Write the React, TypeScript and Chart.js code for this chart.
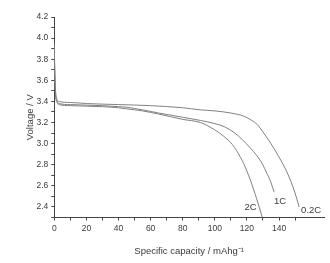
import React, { useEffect, useRef } from "react";
import { Chart, registerables } from "chart.js";

Chart.register(...registerables);

// 0.2C discharge curve
const cap02C = [0, 0.3, 0.8, 1.5, 3, 10, 20, 40, 60, 80, 91, 100, 110, 118, 123, 126.5, 130, 133, 137, 141, 144, 147.3, 150, 152.5];
const volt02C = [3.95, 3.7, 3.5, 3.43, 3.40, 3.39, 3.38, 3.37, 3.36, 3.34, 3.32, 3.31, 3.29, 3.26, 3.22, 3.18, 3.11, 3.045, 2.95, 2.845, 2.76, 2.645, 2.53, 2.40];

// 1C discharge curve
const cap1C = [0, 0.3, 0.8, 1.5, 3, 10, 20, 30, 40, 45, 55, 65, 80, 91, 100, 106, 112, 117, 122, 126, 129.5, 132.7, 135, 136.9];
const volt1C = [3.92, 3.65, 3.47, 3.41, 3.38, 3.37, 3.365, 3.36, 3.35, 3.345, 3.32, 3.29, 3.25, 3.22, 3.19, 3.16, 3.105, 3.04, 2.96, 2.89, 2.81, 2.71, 2.63, 2.54];

// 2C discharge curve
const cap2C = [0, 0.3, 0.8, 1.5, 3, 10, 20, 30, 40, 45, 55, 65, 80, 91, 100, 105.5, 111, 116, 118, 122, 126, 129.6];
const volt2C = [3.9, 3.62, 3.45, 3.40, 3.37, 3.36, 3.355, 3.35, 3.34, 3.33, 3.31, 3.28, 3.23, 3.20, 3.13, 3.07, 2.99, 2.87, 2.81, 2.66, 2.48, 2.30];

// Curve labels and their anchor positions in data units
const curveLabels = ["2C", "1C", "0.2C"];
const labelCap = [122.3, 140.6, 160];
const labelVolt = [2.395, 2.457, 2.363];

const xTitle = "Specific capacity / mAhg\u207B\u00B9";
const yTitle = "Voltage / V";

const FONT = "'Liberation Sans', Arial, sans-serif";
const LINE = "#808080";
const AXIS = "#444";
const TEXT = "#3a3a3a";

const toPts = (xs: number[], ys: number[]) => xs.map((x, i) => ({ x, y: ys[i] }));

export default function App() {
  const ref = useRef<HTMLCanvasElement | null>(null);
  useEffect(() => {
    if (!ref.current) return;
    const labelPlugin = {
      id: "curveLabels",
      afterDatasetsDraw(chart: any) {
        const { ctx, scales } = chart;
        ctx.save();
        ctx.fillStyle = TEXT;
        ctx.font = `9.5px ${FONT}`;
        ctx.textAlign = "center";
        ctx.textBaseline = "middle";
        curveLabels.forEach((t, i) => {
          ctx.fillText(t, scales.x.getPixelForValue(labelCap[i]), scales.y.getPixelForValue(labelVolt[i]));
        });
        ctx.restore();
      },
    };
    const ds = (data: any) => ({
      data,
      borderColor: LINE,
      borderWidth: 1,
      pointRadius: 0,
      fill: false,
      cubicInterpolationMode: "monotone" as const,
    });
    const chart = new Chart(ref.current, {
      type: "line",
      data: {
        datasets: [ds(toPts(cap02C, volt02C)), ds(toPts(cap1C, volt1C)), ds(toPts(cap2C, volt2C))],
      },
      options: {
        animation: false,
        responsive: false,
        maintainAspectRatio: false,
        layout: { padding: { top: 17, right: 6, left: 0, bottom: 0 } },
        plugins: { legend: { display: false }, tooltip: { enabled: false } },
        scales: {
          x: {
            type: "linear",
            min: 0,
            max: 168,
            afterFit: (s: any) => {
              s.height = 45.5;
            },
            border: { display: true, color: AXIS, width: 1 },
            grid: {
              drawOnChartArea: false,
              drawTicks: true,
              tickLength: 3,
              tickColor: (c: any) => (c.tick && c.tick.value % 10 === 0 ? AXIS : "rgba(0,0,0,0)"),
            },
            ticks: {
              stepSize: 10,
              autoSkip: false,
              maxRotation: 0,
              padding: 3,
              color: TEXT,
              font: { family: FONT, size: 8.5 },
              callback: (v: any) => (Number(v) % 20 === 0 ? String(v) : ""),
            },
            title: {
              display: true,
              text: xTitle,
              color: TEXT,
              font: { family: FONT, size: 9.5 },
              padding: { top: 0, bottom: 6 },
            },
          },
          y: {
            type: "linear",
            min: 2.3,
            max: 4.2,
            afterFit: (s: any) => {
              s.width = 54.3;
            },
            border: { display: true, color: AXIS, width: 1 },
            grid: { drawOnChartArea: false, drawTicks: true, tickLength: 3, tickColor: AXIS },
            ticks: {
              stepSize: 0.1,
              autoSkip: false,
              padding: 3,
              color: TEXT,
              font: { family: FONT, size: 8.5 },
              callback: (v: any) => (Math.round(Number(v) * 10) % 2 === 0 ? Number(v).toFixed(1) : ""),
            },
            title: {
              display: true,
              text: yTitle,
              color: TEXT,
              font: { family: FONT, size: 9.5 },
              padding: { top: 25, bottom: 0 },
            },
          },
        },
      },
      plugins: [labelPlugin],
    });
    return () => chart.destroy();
  }, []);
  return (
    <div style={{ position: "absolute", left: 0, top: 0, width: 330, height: 263, background: "#fff" }}>
      <canvas ref={ref} width={330} height={263} style={{ width: 330, height: 263 }} />
    </div>
  );
}
